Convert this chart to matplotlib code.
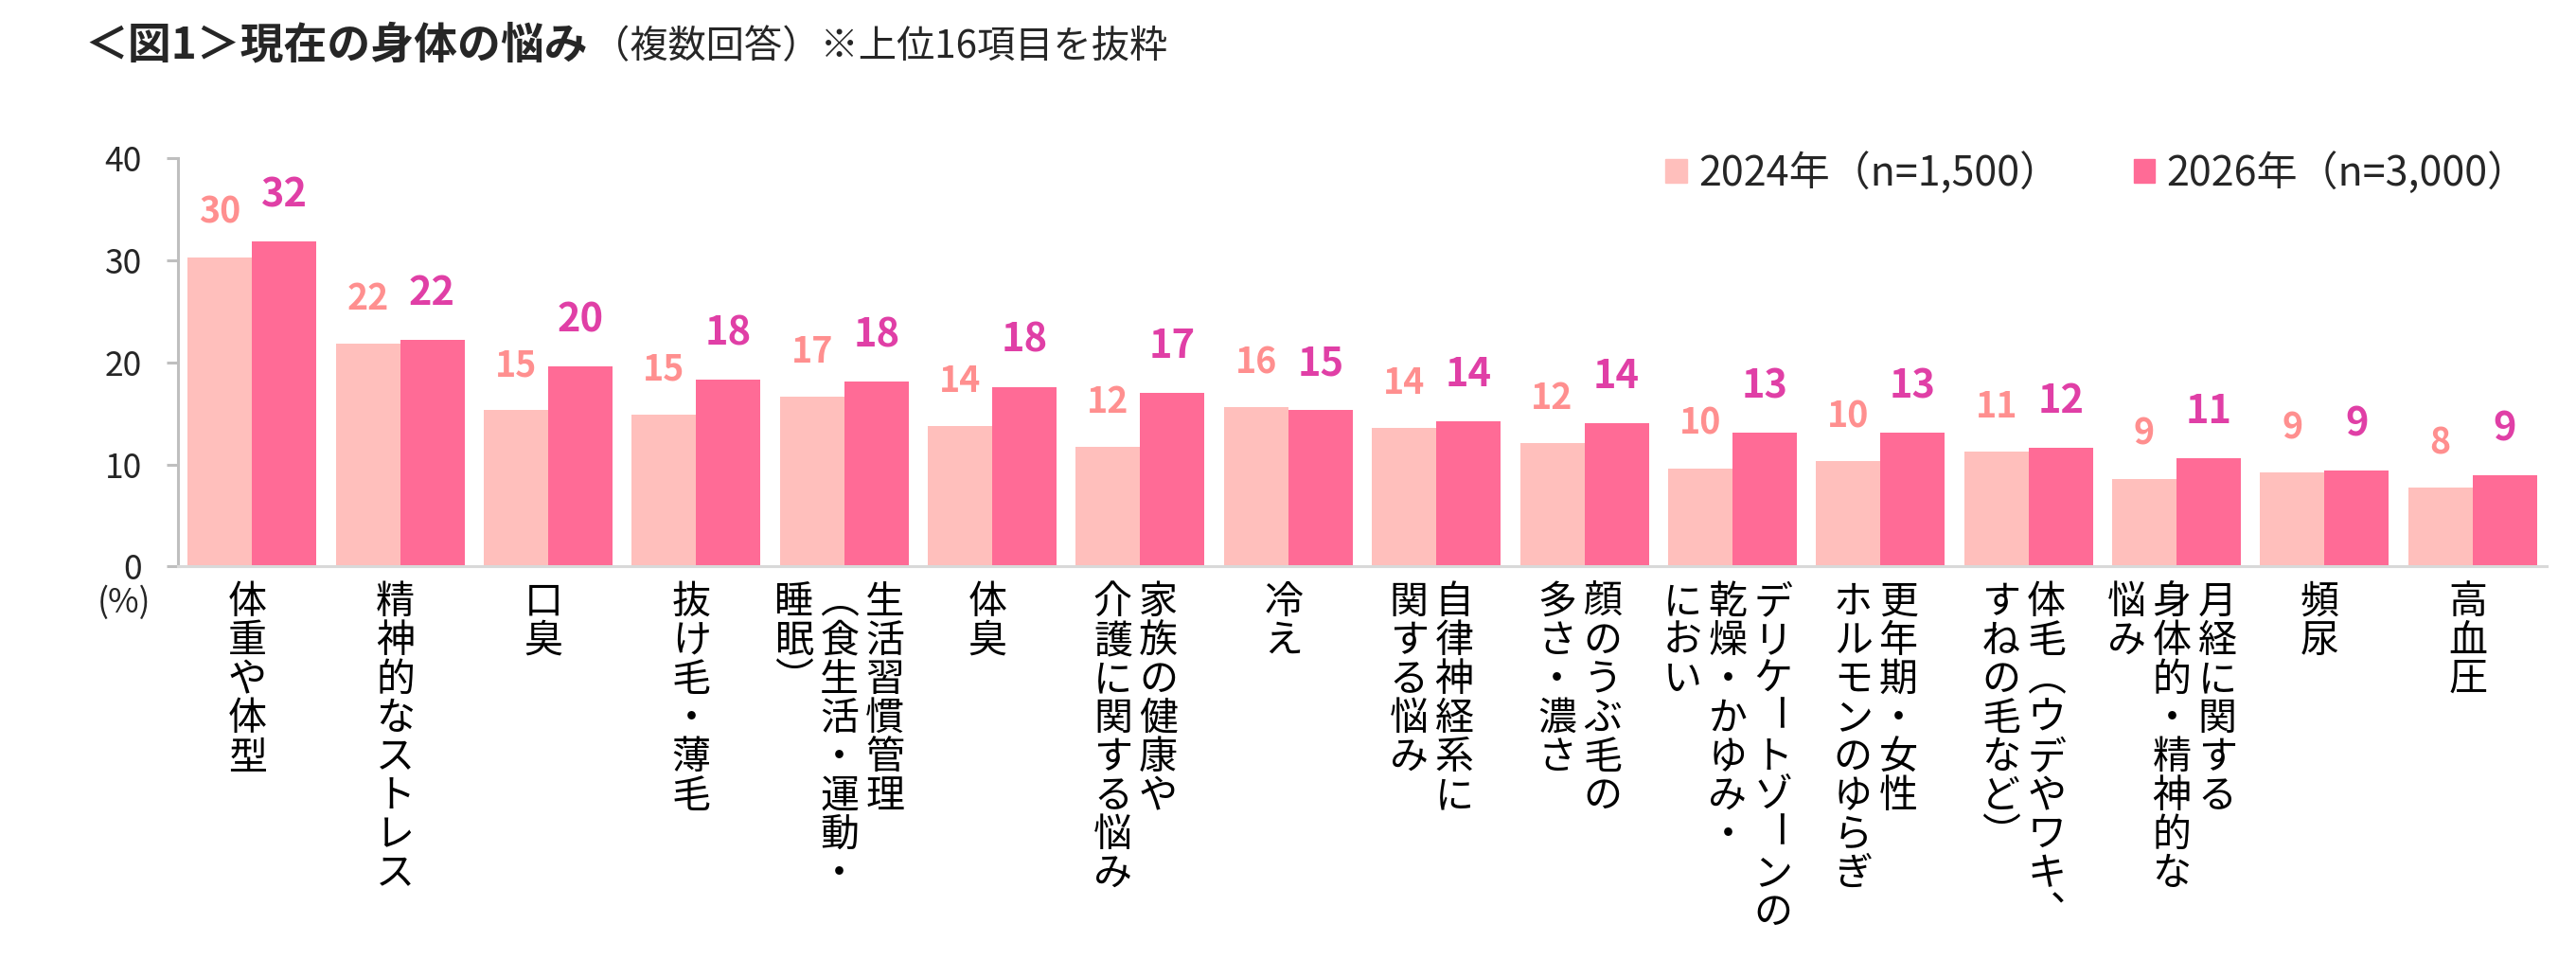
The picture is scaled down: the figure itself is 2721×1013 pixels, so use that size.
import numpy as np
import matplotlib
matplotlib.use('Agg')
import matplotlib.pyplot as plt
from matplotlib.patches import Patch

plt.rcParams['font.family'] = ['Noto Sans CJK JP', 'DejaVu Sans']

# vertical labels: one string per column, right column first
categories = [
    ['体重や体型'],
    ['精神的なストレス'],
    ['口臭'],
    ['抜け毛・薄毛'],
    ['生活習慣管理', '（食生活・運動・', '睡眠）'],
    ['体臭'],
    ['家族の健康や', '介護に関する悩み'],
    ['冷え'],
    ['自律神経系に', '関する悩み'],
    ['顔のうぶ毛の', '多さ・濃さ'],
    ['デリケートゾーンの', '乾燥・かゆみ・', 'におい'],
    ['更年期・女性', 'ホルモンのゆらぎ'],
    ['体毛（ウデやワキ、', 'すねの毛など）'],
    ['月経に関する', '身体的・精神的な', '悩み'],
    ['頻尿'],
    ['高血圧'],
]
v2024 = [30.3, 21.8, 15.3, 14.9, 16.6, 13.8, 11.7, 15.6, 13.6, 12.1, 9.6, 10.3, 11.3, 8.6, 9.2, 7.7]
v2026 = [31.8, 22.2, 19.6, 18.3, 18.1, 17.6, 17.0, 15.3, 14.2, 14.0, 13.1, 13.1, 11.6, 10.6, 9.4, 8.9]
series_names = ['2024年（n=1,500）', '2026年（n=3,000）']
yticks = [0, 10, 20, 30, 40]

c24 = '#FFBFBC'
c26 = '#FF6B96'
t24 = '#FF8F8F'
t26 = '#E03FA6'
dark = '#262626'

W, H = 2721, 1013
fig = plt.figure(figsize=(W / 100, H / 100), dpi=100)
ax = fig.add_axes([188 / W, 1 - 598.5 / H, (2690 - 188) / W, (598.5 - 167) / H])

x = np.arange(len(categories))
w = 0.435
ax.bar(x - w / 2, v2024, w, color=c24)
ax.bar(x + w / 2, v2026, w, color=c26)

px = 0.72  # points per pixel
for i in range(len(x)):
    ax.annotate(f'{v2024[i]:.0f}', (x[i] - w / 2, v2024[i]), xytext=(0, 36 * px),
                textcoords='offset points', ha='center', va='baseline',
                fontsize=27, fontweight='bold', color=t24)
    ax.annotate(f'{v2026[i]:.0f}', (x[i] + w / 2, v2026[i]), xytext=(0, 37 * px),
                textcoords='offset points', ha='center', va='baseline',
                fontsize=30, fontweight='bold', color=t26)

ax.set_xlim(-0.5, len(categories) - 0.5)
ax.set_ylim(0, 40)
ax.set_yticks(yticks)
ax.tick_params(axis='y', length=8.6, width=2.2, color='#BFBFBF', pad=18.7,
               labelsize=25.5, labelcolor=dark)
ax.tick_params(axis='x', length=0, labelbottom=False)
for s in ['top', 'right']:
    ax.spines[s].set_visible(False)
ax.spines['left'].set_color('#BFBFBF')
ax.spines['left'].set_linewidth(2.2)
ax.spines['bottom'].set_color('#D9D9D9')
ax.spines['bottom'].set_linewidth(2.2)

# vertical (tategaki) category labels
vert = {'（': '︵', '）': '︶', '、': '︑'}
em = 41
col_sp = 48
for i, cols in enumerate(categories):
    n = len(cols)
    for j, col in enumerate(cols):
        dx = ((n - 1) / 2 - j) * col_sp - 5
        for k, ch in enumerate(col):
            base = -(49.5 + em * k)
            if ch == 'ー':
                ax.annotate(ch, (x[i], 0), xycoords=('data', 'axes fraction'),
                            xytext=(dx * px, (base + 0.38 * em) * px),
                            textcoords='offset points', ha='center', va='center',
                            rotation=-90, fontsize=29.5, color='black',
                            annotation_clip=False)
            else:
                ax.annotate(vert.get(ch, ch), (x[i], 0), xycoords=('data', 'axes fraction'),
                            xytext=(dx * px, base * px), textcoords='offset points',
                            ha='center', va='baseline', fontsize=29.5, color='black',
                            annotation_clip=False)

fig.text(131 / W, 1 - 637 / H, '(%)', fontsize=25.5, color=dark, ha='center', va='center')

fig.legend([Patch(color=c24), Patch(color=c26)], series_names,
           loc='center left', bbox_to_anchor=(1759 / W, 1 - 183 / H), ncol=2,
           frameon=False, fontsize=31, handlelength=0.53, handleheight=0.53,
           handletextpad=0.28, columnspacing=1.8, borderpad=0, borderaxespad=0,
           labelcolor=dark)

title = fig.text(89 / W, 1 - 48 / H, '＜図1＞現在の身体の悩み', fontsize=33,
                 fontweight='bold', color=dark, ha='left', va='center')
fig.canvas.draw()
bb = title.get_window_extent()
fig.text((bb.x1 + 4) / W, 1 - 50 / H, '（複数回答）※上位16項目を抜粋', fontsize=29,
         color=dark, ha='left', va='center')

fig.savefig('out.png', dpi=100, facecolor='white')
